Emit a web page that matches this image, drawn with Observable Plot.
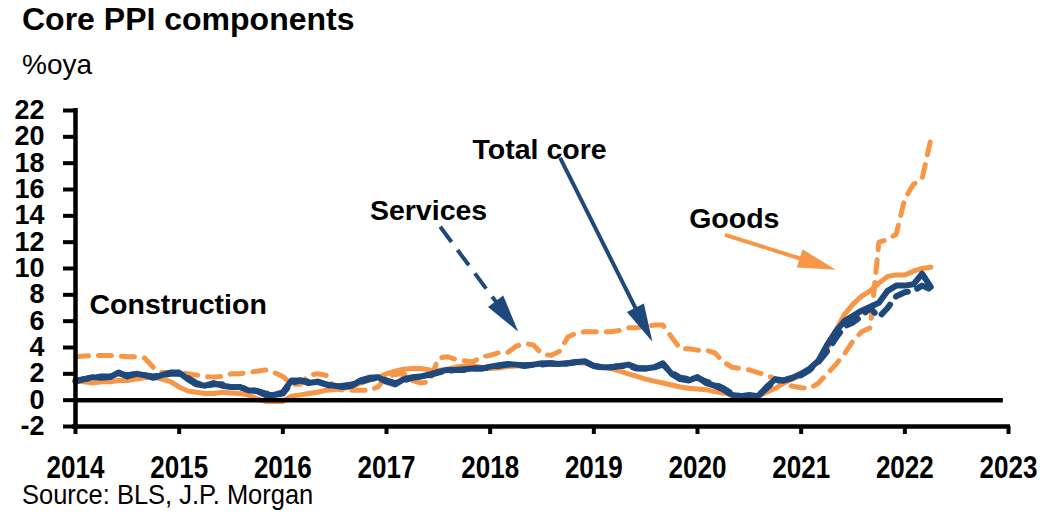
<!DOCTYPE html>
<html>
<head>
<meta charset="utf-8">
<script src="https://cdn.jsdelivr.net/npm/d3@7"></script>
<script src="https://cdn.jsdelivr.net/npm/@observablehq/plot@0.6"></script>
<style>
  body { margin: 0; background: #fff; }
  #wrap { position: relative; width: 1042px; height: 515px; overflow: hidden; font-family: "Liberation Sans", Arial, sans-serif; color: #000; }
  #title { position: absolute; left: 22px; top: 3px; font-size: 32px; font-weight: bold; line-height: 1; margin: 0; white-space: nowrap; }
  #sub { position: absolute; left: 22px; top: 51px; font-size: 28px; line-height: 1; white-space: nowrap; }
  #chart { position: absolute; left: 0; top: 88px; }
  #src { position: absolute; left: 22px; top: 481px; font-size: 28px; line-height: 1; white-space: nowrap; transform: scaleX(0.91); transform-origin: 0 0; }
</style>
</head>
<body>
<div id="wrap">
  <h1 id="title">Core PPI components</h1>
  <div id="sub">%oya</div>
  <div id="chart"></div>
  <div id="src">Source: BLS, J.P. Morgan</div>
</div>
<script>
// Monthly data, Jan 2014 .. Apr 2022 (%oya)
const startYear = 2014;
const totalCore = [
  1.4,1.6,1.75,1.7,1.75,2.1,1.8,2.0,1.9,1.7,1.9,2.1,
  2.1,1.6,1.2,1.1,1.3,1.1,1.0,1.0,0.75,0.7,0.4,0.4,
  0.6,1.5,1.5,1.3,1.4,1.2,1.1,1.0,1.1,1.5,1.7,1.75,
  1.4,1.2,1.6,1.75,1.8,1.95,2.15,2.3,2.3,2.35,2.4,2.4,
  2.55,2.65,2.75,2.7,2.65,2.7,2.8,2.8,2.75,2.8,2.9,2.95,
  2.6,2.5,2.5,2.6,2.7,2.45,2.4,2.5,2.8,2.0,1.6,1.5,
  1.75,1.3,1.1,0.8,0.4,0.3,0.4,0.3,1.0,1.6,1.5,1.7,
  2.0,2.4,3.0,4.2,5.2,6.0,6.4,6.8,7.1,7.4,8.3,8.7,
  8.7,8.8,9.6,8.6
];
const services = [
  1.5,1.6,1.7,1.8,1.8,2.0,1.9,2.0,1.9,1.8,1.9,2.0,
  2.0,1.7,1.3,1.1,1.2,1.2,1.0,1.0,0.8,0.7,0.5,0.4,
  0.5,1.3,1.5,1.4,1.4,1.2,1.0,1.1,1.2,1.4,1.6,1.7,
  1.5,1.3,1.5,1.7,1.8,1.9,2.1,2.2,2.3,2.3,2.4,2.4,
  2.5,2.6,2.7,2.7,2.6,2.7,2.7,2.8,2.7,2.8,2.9,2.9,
  2.6,2.5,2.5,2.6,2.6,2.4,2.4,2.5,2.7,2.1,1.7,1.6,
  1.7,1.4,1.2,0.9,0.5,0.3,0.3,0.3,0.9,1.5,1.5,1.7,
  1.9,2.3,2.9,3.7,4.7,5.6,5.9,6.4,7.0,6.3,7.0,7.9,
  8.2,8.3,8.7,8.4
];
const goods = [
  1.5,1.4,1.3,1.4,1.4,1.5,1.5,1.6,1.7,1.75,1.6,1.4,
  1.0,0.7,0.6,0.5,0.5,0.6,0.55,0.5,0.4,0.1,-0.1,-0.1,
  -0.1,0.3,0.4,0.5,0.6,0.75,0.8,0.9,1.0,1.3,1.5,1.7,
  2.0,2.2,2.35,2.4,2.4,2.3,2.25,2.35,2.5,2.6,2.6,2.5,
  2.4,2.45,2.55,2.6,2.65,2.7,2.7,2.7,2.8,2.85,2.85,2.8,
  2.65,2.5,2.4,2.2,2.0,1.8,1.6,1.45,1.3,1.15,1.0,0.9,
  0.85,0.8,0.65,0.55,0.4,0.3,0.2,0.3,0.6,0.9,1.3,1.6,
  1.9,2.3,3.0,3.9,5.3,6.5,7.3,7.9,8.3,8.9,9.4,9.5,
  9.5,9.8,10.0,10.1
];
const construction = [
  3.3,3.35,3.4,3.4,3.4,3.35,3.3,3.3,3.2,2.5,2.1,2.1,
  2.1,2.0,1.9,1.8,1.75,1.8,2.0,2.0,2.1,2.2,2.3,2.1,
  1.8,1.2,1.2,1.9,2.0,1.9,0.9,0.75,0.75,0.75,0.75,1.0,
  1.8,1.95,2.0,1.5,1.3,1.4,3.2,3.3,3.1,3.0,2.9,3.3,
  3.4,3.6,3.6,4.1,4.3,4.2,3.5,3.4,3.7,4.8,5.1,5.2,
  5.2,5.2,5.2,5.3,5.5,5.5,5.6,5.7,5.7,4.8,3.9,3.9,
  3.8,3.8,3.6,2.9,2.5,2.4,2.3,2.1,1.9,1.6,1.3,1.05,
  0.95,0.9,1.3,2.0,2.7,3.5,4.5,5.2,5.5,12.0,12.2,12.6,
  15.3,16.4,16.8,19.8
];
const yearTicks = [2014,2015,2016,2017,2018,2019,2020,2021,2022,2023];
const yTicks = [-2,0,2,4,6,8,10,12,14,16,18,20,22];

// Annotation text and arrows (data coordinates)
const labelNames = ["Construction", "Services", "Total core", "Goods"];
const labelX = [2014.135, 2016.84, 2017.83, 2019.92];
const labelY = [7.2, 14.4, 19.0, 13.8];
const arrows = [
  {x1: 2017.523, y1: 13.13, x2: 2018.276, y2: 5.16, color: "#1F497D", dashed: true},
  {x1: 2018.68, y1: 18.36, x2: 2019.57, y2: 4.4, color: "#1F497D", dashed: false},
  {x1: 2020.27, y1: 12.52, x2: 2021.34, y2: 9.86, color: "#F79646", dashed: false}
];

const BLUE = "#1F497D", ORANGE = "#F79646";
const toRows = (arr) => arr.map((v, i) => ({t: startYear + i / 12, v}));

function arrowMark(index, scales) {
  const g = d3.create("svg:g");
  for (const a of arrows) {
    const x1 = scales.x(a.x1), y1 = scales.y(a.y1), x2 = scales.x(a.x2), y2 = scales.y(a.y2);
    const dx = x2 - x1, dy = y2 - y1, len = Math.hypot(dx, dy), ux = dx / len, uy = dy / len;
    const L = 38, W = 19;
    const bx = x2 - ux * L, by = y2 - uy * L;
    g.append("line")
      .attr("x1", x1).attr("y1", y1).attr("x2", bx + ux * 2).attr("y2", by + uy * 2)
      .attr("stroke", a.color).attr("stroke-width", 4)
      .attr("stroke-dasharray", a.dashed ? "19,10" : null);
    g.append("path")
      .attr("d", `M${x2},${y2}L${bx - uy * W / 2},${by + ux * W / 2}L${bx + uy * W / 2},${by - ux * W / 2}Z`)
      .attr("fill", a.color);
  }
  return g.node();
}

const chart = Plot.plot({
  width: 1042,
  height: 395,
  marginLeft: 75,
  marginRight: 34,
  marginTop: 22,
  marginBottom: 57,
  style: {fontFamily: "'Liberation Sans', Arial, sans-serif", background: "white", overflow: "visible", color: "black"},
  x: {domain: [2014, 2023]},
  y: {domain: [-2, 22]},
  marks: [
    Plot.line(toRows(construction), {x: "t", y: "v", stroke: ORANGE, strokeWidth: 5, strokeDasharray: "13,10", strokeLinecap: "round", strokeLinejoin: "round"}),
    Plot.line(toRows(goods), {x: "t", y: "v", stroke: ORANGE, strokeWidth: 5, strokeLinejoin: "round"}),
    Plot.line(toRows(services), {x: "t", y: "v", stroke: BLUE, strokeWidth: 6, strokeDasharray: "13,10", strokeLinecap: "round", strokeLinejoin: "round"}),
    Plot.line(toRows(totalCore), {x: "t", y: "v", stroke: BLUE, strokeWidth: 6, strokeLinejoin: "round"}),
    Plot.ruleY([0], {x1: 2014, x2: 2022.95, stroke: "black", strokeWidth: 4.5}),
    Plot.ruleY([-2], {x1: 2013.97, x2: 2023.02, stroke: "black", strokeWidth: 4.5}),
    Plot.ruleX([2014], {y1: -2.1, y2: 22.15, stroke: "black", strokeWidth: 4.5}),
    Plot.axisY({ticks: yTicks, tickFormat: d => String(d), label: null, tickSize: 12, tickPadding: 19, strokeWidth: 4, fontSize: 27, fontWeight: "bold", fill: "black", stroke: "black"}),
    Plot.axisX({ticks: yearTicks, tickFormat: d => String(d), label: null, tickSize: 8, tickPadding: 21, strokeWidth: 4, fontSize: 31, fontWeight: "bold", fill: "black", stroke: "black"}),
    Plot.text(labelNames, {x: (d, i) => labelX[i], y: (d, i) => labelY[i], text: d => d, textAnchor: "start", lineAnchor: "middle", fontSize: 28.5, fontWeight: "bold", fill: "black"}),
    arrowMark
  ]
});
document.getElementById("chart").appendChild(chart);
// condense the year labels (narrow face as in the original)
d3.select(chart).selectAll('g[aria-label="x-axis tick label"] text').each(function() {
  const w = this.getComputedTextLength();
  this.setAttribute("textLength", (w * 0.84).toFixed(1));
  this.setAttribute("lengthAdjust", "spacingAndGlyphs");
});
</script>
</body>
</html>
